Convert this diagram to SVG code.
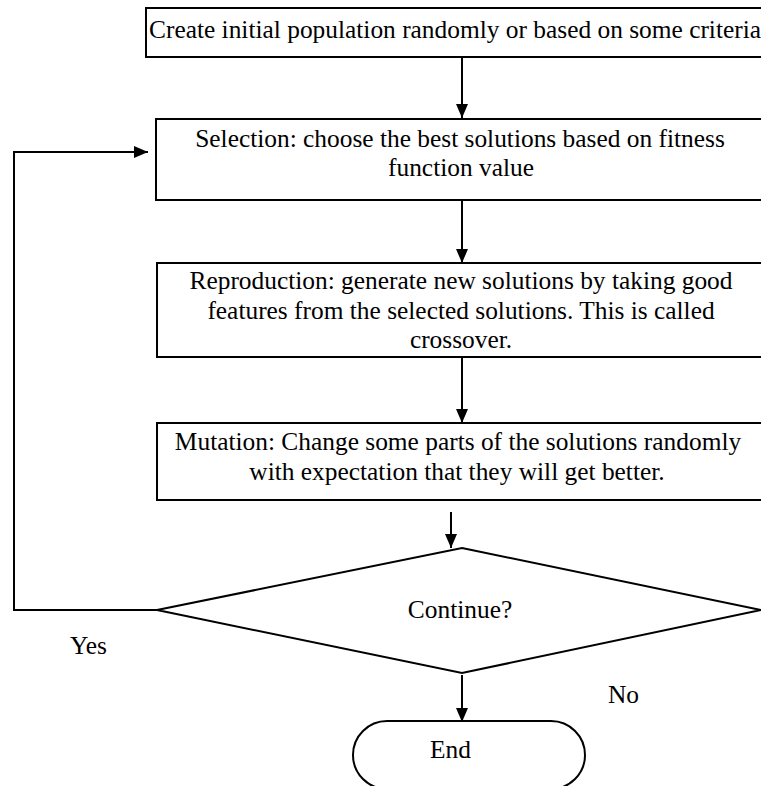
<svg xmlns="http://www.w3.org/2000/svg" width="761" height="786" viewBox="0 0 761 786">
  <style>
    .box { fill: #ffffff; stroke: #000000; stroke-width: 2; }
    .lbl { font-family: "Liberation Serif", "Times New Roman", serif; font-size: 25.4px; fill: #000000; }
    .mid { text-anchor: middle; }
    .wire { fill: none; stroke: #000000; stroke-width: 2; }
  </style>
  <defs>
    <marker id="arrow" markerUnits="userSpaceOnUse" markerWidth="14" markerHeight="12" refX="14" refY="6" orient="auto">
      <path d="M0,0 L14,6 L0,12 Z" fill="#000000"/>
    </marker>
  </defs>
  <rect width="761" height="786" fill="#ffffff"/>

  <g id="connectors">
    <line class="wire" x1="462" y1="57" x2="462" y2="118" marker-end="url(#arrow)"/>
    <line class="wire" x1="462" y1="200" x2="462" y2="263" marker-end="url(#arrow)"/>
    <line class="wire" x1="462" y1="357" x2="462" y2="423" marker-end="url(#arrow)"/>
    <line class="wire" x1="451" y1="512" x2="451" y2="548" marker-end="url(#arrow)"/>
    <line class="wire" x1="462" y1="675" x2="462" y2="722" marker-end="url(#arrow)"/>
    <polyline class="wire" points="157,610 14,610 14,152 148,152" marker-end="url(#arrow)"/>
  </g>

  <g id="init">
    <rect class="box" x="146" y="8" width="630" height="49"/>
    <text class="lbl" x="149" y="38">Create initial population randomly or based on some criteria</text>
  </g>

  <g id="selection">
    <rect class="box" x="156" y="119" width="620" height="81"/>
    <text class="lbl mid" x="460" y="147">Selection: choose the best solutions based on fitness</text>
    <text class="lbl mid" x="461" y="176">function value</text>
  </g>

  <g id="reproduction">
    <rect class="box" x="157" y="263" width="619" height="94"/>
    <text class="lbl mid" x="461" y="289">Reproduction: generate new solutions by taking good</text>
    <text class="lbl mid" x="461" y="319">features from the selected solutions. This is called</text>
    <text class="lbl mid" x="461" y="348">crossover.</text>
  </g>

  <g id="mutation">
    <rect class="box" x="157" y="423" width="619" height="77"/>
    <text class="lbl mid" x="458" y="450">Mutation: Change some parts of the solutions randomly</text>
    <text class="lbl mid" x="457" y="480">with expectation that they will get better.</text>
  </g>

  <g id="decision">
    <polygon class="box" points="462,548 761,610 462,673 157,610"/>
    <text class="lbl mid" x="460" y="618">Continue?</text>
  </g>

  <g id="end">
    <path class="box" d="M387,721 H551 A34,34 0 0 1 551,789 H387 A34,34 0 0 1 387,721 Z"/>
    <text class="lbl" x="430" y="758">End</text>
  </g>

  <g id="labels">
    <text class="lbl" x="70" y="654">Yes</text>
    <text class="lbl" x="608" y="703">No</text>
  </g>
</svg>
